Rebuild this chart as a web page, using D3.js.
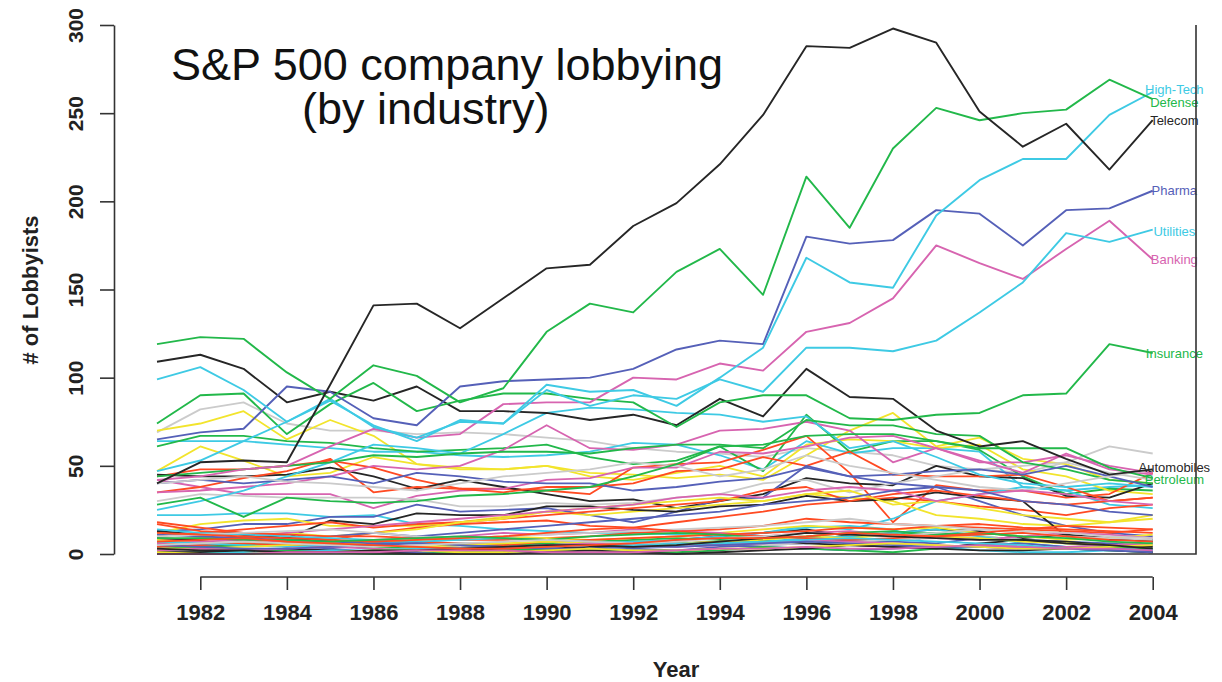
<!DOCTYPE html>
<html>
<head>
<meta charset="utf-8">
<script src="https://cdn.jsdelivr.net/npm/d3@7"></script>
<style>
  body { margin: 0; background: #fff; }
  svg { display: block; font-family: "Liberation Sans", Arial, sans-serif; }
</style>
</head>
<body>
<script>
// years on the x axis
var years = d3.range(1981, 2005);

// labelled industries (values 1981..2004)
var telecom     = [40,52,53,52,96,141,142,128,145,162,164,186,199,221,249,288,287,298,290,251,231,244,218,246];
var defense     = [119,123,122,103,88,107,101,86,94,126,142,137,160,173,147,214,185,230,253,246,250,252,269,258];
var highTech    = [99,106,93,75,88,72,66,75,74,96,92,93,84,100,117,168,154,151,192,212,224,224,249,262];
var pharma      = [65,69,71,95,92,77,73,95,98,99,100,105,116,121,119,180,176,178,195,193,175,195,196,206];
var utilities   = [47,53,64,75,87,73,64,76,74,93,84,90,88,99,92,117,117,115,121,137,154,182,177,184];
var banking     = [42,44,48,50,61,71,66,68,85,86,86,100,99,108,104,126,131,145,175,165,156,173,189,167];
var insurance   = [74,90,91,68,85,97,81,87,91,91,88,86,72,86,90,90,77,76,79,80,90,91,119,114];
var automobiles = [109,113,105,86,92,87,95,81,81,80,76,79,73,88,78,105,89,88,70,61,64,54,45,48];
var petroleum   = [28,32,21,32,30,29,30,33,34,36,38,44,51,61,62,67,68,68,64,60,60,60,49,43];

var labelNames  = ["Telecom","Defense","High-Tech","Pharma","Utilities","Banking","Insurance","Automobiles","Petroleum"];
var labelSeries = [telecom, defense, highTech, pharma, utilities, banking, insurance, automobiles, petroleum];
var labelColors = ["black","green","cyan","blue","cyan","magenta","green","black","green"];

// the other (unlabelled) industries
var otherSeries = [
  [69,82,86,74,70,70,68,69,68,66,64,60,58,57,55,60,58,56,50,48,46,52,61,57],
  [70,74,81,65,76,67,51,49,48,50,46,45,43,45,42,56,70,80,61,66,54,51,42,40],
  [64,64,64,62,60,58,58,56,55,56,58,63,62,56,48,64,57,60,60,58,38,36,38,39],
  [61,67,67,64,63,60,58,59,60,62,55,51,53,61,47,79,58,64,64,59,44,34,37,36],
  [47,61,53,44,46,55,51,48,48,50,44,42,46,50,44,62,65,64,60,62,48,44,36,34],
  [44,48,48,50,53,49,42,37,37,36,34,49,51,52,59,67,46,18,39,36,36,32,34,46],
  [45,44,44,45,49,44,37,42,38,34,30,31,26,30,34,43,40,39,50,44,43,33,32,40],
  [42,38,34,34,34,26,33,36,37,42,43,49,49,58,57,61,66,67,60,52,52,56,50,46],
  [35,38,43,47,54,35,38,37,35,38,38,40,47,48,55,50,58,45,44,44,45,38,30,32],
  [30,34,33,32,32,32,31,27,27,29,28,29,32,34,40,42,35,40,44,48,50,52,46,42],
  [22,22,23,23,21,22,17,16,14,13,12,12,11,11,12,16,14,20,30,34,38,36,28,26],
  [13,14,17,17,21,21,28,24,25,26,22,18,24,31,32,50,44,40,38,30,22,16,12,10],
  [12,17,19,20,16,16,16,18,21,24,22,24,26,28,30,34,32,30,22,20,17,16,18,20],
  [17,13,12,10,8,12,15,17,18,19,16,15,18,21,24,28,30,32,30,27,25,22,26,28],
  [13,11,12,9,19,17,23,22,22,27,27,25,24,27,28,33,30,31,35,32,30,10,8,8],
  [6,4,5,6,5,3,0,0,1,3,4,5,8,10,12,14,10,12,14,13,9,11,9,7],
  [35,36,38,40,44,50,48,50,59,73,60,59,62,70,71,75,70,52,60,53,46,57,48,45],
  [25,30,36,44,52,62,60,57,68,80,83,82,80,79,75,78,60,64,55,45,40,38,40,38],
  [44,46,48,50,52,56,55,57,58,58,57,60,62,62,60,76,73,73,68,67,52,48,42,40],
  [40,42,40,42,44,40,46,44,41,40,40,36,38,41,43,49,44,45,47,48,45,50,44,38],
  [10,12,14,16,18,15,17,18,20,22,24,26,28,30,36,38,30,34,36,33,30,28,30,32],
  [5,8,10,12,10,12,14,18,20,24,26,28,30,32,30,34,36,28,30,26,22,20,18,22],
  [40,42,44,41,40,38,36,40,44,46,48,52,50,44,48,56,50,46,42,38,36,40,44,48],
  [8,9,10,12,14,16,18,20,22,24,26,28,32,34,32,36,38,36,30,34,36,34,30,28],
  [4,5,6,8,10,12,10,12,14,16,18,20,22,24,28,30,32,36,38,36,30,28,24,22],
  [18,15,12,11,10,10,9,8,8,9,10,12,13,14,16,20,18,17,16,15,14,13,12,14],
  [14,12,11,10,9,8,7,6,6,5,6,7,8,10,12,15,16,14,4,2,1,1,2,3],
  [2,1,2,2,3,1,1,0,0,1,2,3,2,4,5,6,8,7,6,9,8,7,6,5],
  [3,4,5,6,5,4,3,4,5,6,7,8,9,8,7,8,10,11,12,10,8,6,4,3],
  [8,7,6,8,7,6,8,9,10,9,8,9,10,12,14,16,15,14,15,12,10,8,9,11],
  [1,2,3,2,1,2,3,4,3,2,3,4,5,6,5,6,7,8,9,10,8,6,5,4],
  [9,8,10,9,7,5,4,3,2,2,3,5,6,7,8,6,5,4,3,6,8,7,5,4],
  [6,7,8,7,6,8,9,10,12,11,12,14,13,12,10,12,13,11,9,8,10,12,11,9],
  [4,5,6,5,4,6,7,6,5,7,8,9,10,11,12,13,15,14,16,17,15,14,13,12],
  [7,6,5,4,5,6,7,8,9,8,7,6,5,6,7,9,10,12,14,10,6,4,3,2],
  [11,10,9,8,7,6,6,5,4,4,5,6,7,5,4,3,2,3,4,5,6,4,3,2],
  [0,1,1,2,1,0,0,1,2,3,2,1,1,2,4,3,2,1,3,5,4,3,2,1],
  [3,3,4,5,6,5,4,5,6,7,6,5,6,7,8,10,9,11,10,9,7,6,5,6],
  [10,11,12,13,14,12,10,9,10,11,12,13,14,15,16,18,20,17,16,14,12,10,9,8],
  [1,1,2,3,2,1,0,0,0,1,2,1,0,1,2,3,5,4,3,2,2,3,2,1],
  [2,3,2,3,4,3,2,3,4,5,6,5,4,5,6,8,7,6,5,4,3,4,5,6],
  [12,11,10,9,8,7,8,9,10,12,14,15,13,11,10,9,8,9,10,11,12,10,8,7],
  [0,0,1,1,2,2,3,3,4,4,5,5,6,6,7,8,9,8,7,6,5,3,2,2],
  [5,4,3,3,4,5,6,5,4,3,3,4,4,5,6,7,6,5,4,4,3,3,2,1],
  [9,9,8,8,7,8,9,10,9,8,10,11,12,11,9,10,12,13,11,12,10,9,7,6],
  [1,0,0,1,1,2,2,1,1,2,3,2,2,3,3,4,5,6,5,4,3,3,4,5],
  [5,6,7,6,5,4,5,6,7,8,7,6,7,9,10,12,11,10,12,14,13,12,10,9],
  [3,2,2,1,1,2,2,3,4,5,5,4,5,7,9,12,11,10,9,8,8,6,5,3],
  [0,0,0,1,1,1,2,2,2,1,1,1,2,3,3,4,3,3,4,5,4,3,3,2],
  [7,8,9,7,6,5,4,3,3,4,5,6,8,9,9,10,12,11,10,12,14,16,15,14]
];
var otherColors = [
  "gray","yellow","cyan","green","yellow","red","black","magenta","red","gray",
  "cyan","blue","yellow","red","black","black","magenta","cyan","green","blue",
  "red","yellow","gray","magenta","blue","red","cyan","blue","green","yellow",
  "gray","black","magenta","red","cyan","blue","green","yellow","gray","black",
  "magenta","red","cyan","blue","green","yellow","gray","black","magenta","red"
];

var yTicks = [0, 50, 100, 150, 200, 250, 300];
var xTicks = d3.range(1982, 2005, 2);

// R-ish palette
var palette = {
  black: "#262626", green: "#22b84a", cyan: "#3ecae4", blue: "#5560b8",
  magenta: "#d764b0", red: "#ff4a22", yellow: "#f2e42c", gray: "#cbcbcb"
};

// small vertical nudges (px) so crowded names sit like in the original
var labelNudge = [0, 3, -3, 0, 2, 0, 0, -2, 1];

var width = 1222, height = 682;

var svg = d3.select("body").append("svg")
  .attr("width", width)
  .attr("height", height);

var x = d3.scaleLinear().domain([1981, 2005]).range([157, 1196]);
var y = d3.scaleLinear().domain([0, 300]).range([554, 25]);

var line = d3.line()
  .x(function (d, i) { return x(years[i]); })
  .y(function (d) { return y(d); });

// all the background lines first
svg.append("g")
  .selectAll("path")
  .data(otherSeries)
  .enter().append("path")
  .attr("d", line)
  .attr("fill", "none")
  .attr("stroke", function (d, i) { return palette[otherColors[i]]; })
  .attr("stroke-width", 1.8)
  .attr("stroke-linejoin", "round");

// labelled ones on top (petroleum first so telecom ends up topmost)
var order = d3.range(labelSeries.length).reverse();
svg.append("g")
  .selectAll("path")
  .data(order)
  .enter().append("path")
  .attr("d", function (k) { return line(labelSeries[k]); })
  .attr("fill", "none")
  .attr("stroke", function (k) { return palette[labelColors[k]]; })
  .attr("stroke-width", 1.9)
  .attr("stroke-linejoin", "round");

// industry names at the right end
svg.append("g")
  .selectAll("text")
  .data(order)
  .enter().append("text")
  .attr("x", x(2004.5))
  .attr("y", function (k) { return y(labelSeries[k][labelSeries[k].length - 1]) + labelNudge[k]; })
  .attr("dy", "0.35em")
  .attr("text-anchor", "middle")
  .style("font-size", "13px")
  .style("fill", function (k) { return palette[labelColors[k]]; })
  .text(function (k) { return labelNames[k]; });

// partial box: bottom and right
svg.append("path")
  .attr("d", "M" + x(1981) + "," + y(0) + "H" + x(2005) + "V" + y(300))
  .attr("fill", "none")
  .attr("stroke", "#333")
  .attr("stroke-width", 1.6);

// y axis
var yAxis = svg.append("g")
  .attr("transform", "translate(114,0)")
  .call(d3.axisLeft(y).tickValues(yTicks).tickSize(14).tickSizeOuter(0));
yAxis.select(".domain").attr("stroke", "#333").attr("stroke-width", 1.6);
yAxis.selectAll(".tick line").attr("stroke", "#333").attr("stroke-width", 1.6);
yAxis.selectAll(".tick text")
  .attr("transform", "rotate(-90)")
  .attr("x", 0)
  .attr("y", -31)
  .attr("dy", 0)
  .attr("text-anchor", "middle")
  .style("font-size", "21px")
  .style("font-weight", "bold")
  .style("font-family", "Liberation Sans, Arial, sans-serif")
  .style("fill", "#222");

// x axis, offset below the plot
var xAxis = svg.append("g")
  .attr("transform", "translate(0,577)")
  .call(d3.axisBottom(x).tickValues(xTicks).tickSize(13).tickSizeOuter(0).tickFormat(d3.format("d")));
xAxis.select(".domain").remove();
xAxis.append("line")
  .attr("x1", x(1982)).attr("x2", x(2004))
  .attr("stroke", "#333").attr("stroke-width", 1.6);
xAxis.selectAll(".tick line").attr("stroke", "#333").attr("stroke-width", 1.6);
xAxis.selectAll(".tick text")
  .attr("y", 43)
  .attr("dy", 0)
  .style("font-size", "22px")
  .style("font-weight", "bold")
  .style("font-family", "Liberation Sans, Arial, sans-serif")
  .style("fill", "#222");

// axis titles
svg.append("text")
  .attr("x", 676).attr("y", 677)
  .attr("text-anchor", "middle")
  .style("font-size", "22px").style("font-weight", "bold").style("fill", "#222")
  .text("Year");

svg.append("text")
  .attr("transform", "translate(38,290) rotate(-90)")
  .attr("text-anchor", "middle")
  .style("font-size", "22px").style("font-weight", "bold").style("fill", "#222")
  .text("# of Lobbyists");

// title
svg.append("text")
  .attr("x", 171).attr("y", 80)
  .style("font-size", "45px").style("fill", "#111")
  .text("S&P 500 company lobbying");
svg.append("text")
  .attr("x", 302).attr("y", 124)
  .style("font-size", "45px").style("fill", "#111")
  .text("(by industry)");
</script>
</body>
</html>
